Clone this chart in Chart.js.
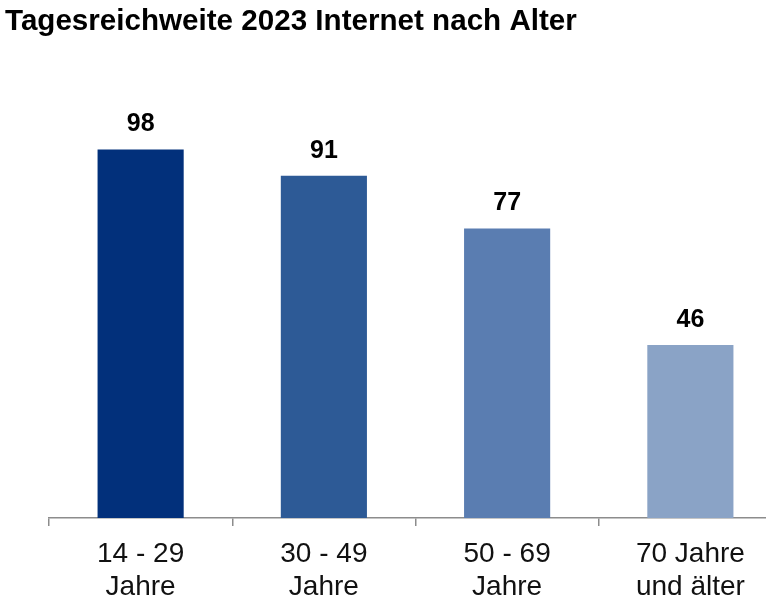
<!DOCTYPE html>
<html>
<head>
<meta charset="utf-8">
<script src="https://cdn.jsdelivr.net/npm/chart.js@4"></script>
<style>
    html, body { margin: 0; padding: 0; background: #fff; overflow: hidden; }
    #wrap { width: 766px; height: 597px; overflow: hidden; }
</style>
</head>
<body>
<div id="wrap">
    <canvas id="chartReichweite" width="782" height="597"></canvas>
</div>
<script>
const categorias = [['14 - 29', 'Jahre'], ['30 - 49', 'Jahre'], ['50 - 69', 'Jahre'], ['70 Jahre', 'und älter']];
const reichweite = [98, 91, 77, 46];
const farben = ['#02307b', '#2d5a96', '#5a7db1', '#8aa3c6'];

const fuente = '"Liberation Sans", Arial, sans-serif';

// Werte über den Balken schreiben
const etiquetas = {
    id: 'etiquetas',
    afterDatasetsDraw(chart) {
        const ctx = chart.ctx;
        const meta = chart.getDatasetMeta(0);
        ctx.save();
        ctx.font = 'bold 25px ' + fuente;
        ctx.fillStyle = '#000';
        ctx.textAlign = 'center';
        ctx.textBaseline = 'alphabetic';
        meta.data.forEach((bar, i) => {
            ctx.fillText(reichweite[i], bar.x, bar.y - 18);
        });
        ctx.restore();
    }
};

const canvas = document.getElementById('chartReichweite');
const context = canvas.getContext('2d');

const chartReichweite = new Chart(context, {
    type: 'bar',
    data: {
        labels: categorias,
        datasets: [
            {
                label: 'Tagesreichweite',
                data: reichweite,
                backgroundColor: farben,
                barPercentage: 0.47,
                categoryPercentage: 1
            }
        ]
    },
    options: {
        responsive: false,
        animation: false,
        layout: {
            padding: { left: 5, right: 0, top: 0, bottom: 0 }
        },
        plugins: {
            legend: { display: false },
            tooltip: { enabled: false },
            title: {
                display: true,
                text: 'Tagesreichweite 2023 Internet nach Alter',
                align: 'start',
                color: '#000',
                font: { family: fuente, size: 29.6, weight: 'bold' },
                padding: { top: 4, bottom: 29 },
                fullSize: true
            }
        },
        scales: {
            x: {
                offset: true,
                grid: {
                    offset: true,
                    drawOnChartArea: false,
                    drawTicks: true,
                    tickLength: 8,
                    color: '#8c8c8c',
                    lineWidth: 1.5
                },
                border: { color: '#8c8c8c', width: 1.5 },
                ticks: {
                    color: '#111',
                    font: { family: fuente, size: 28, lineHeight: 1.18 },
                    padding: 12,
                    maxRotation: 0
                },
                afterFit(scale) {
                    scale.height = 79;
                }
            },
            y: {
                display: true,
                min: 0,
                max: 119.5,
                grid: { display: false },
                border: { display: false },
                ticks: { display: false },
                afterFit(scale) {
                    scale.width = 44;
                }
            }
        }
    },
    plugins: [etiquetas]
});
</script>
</body>
</html>
